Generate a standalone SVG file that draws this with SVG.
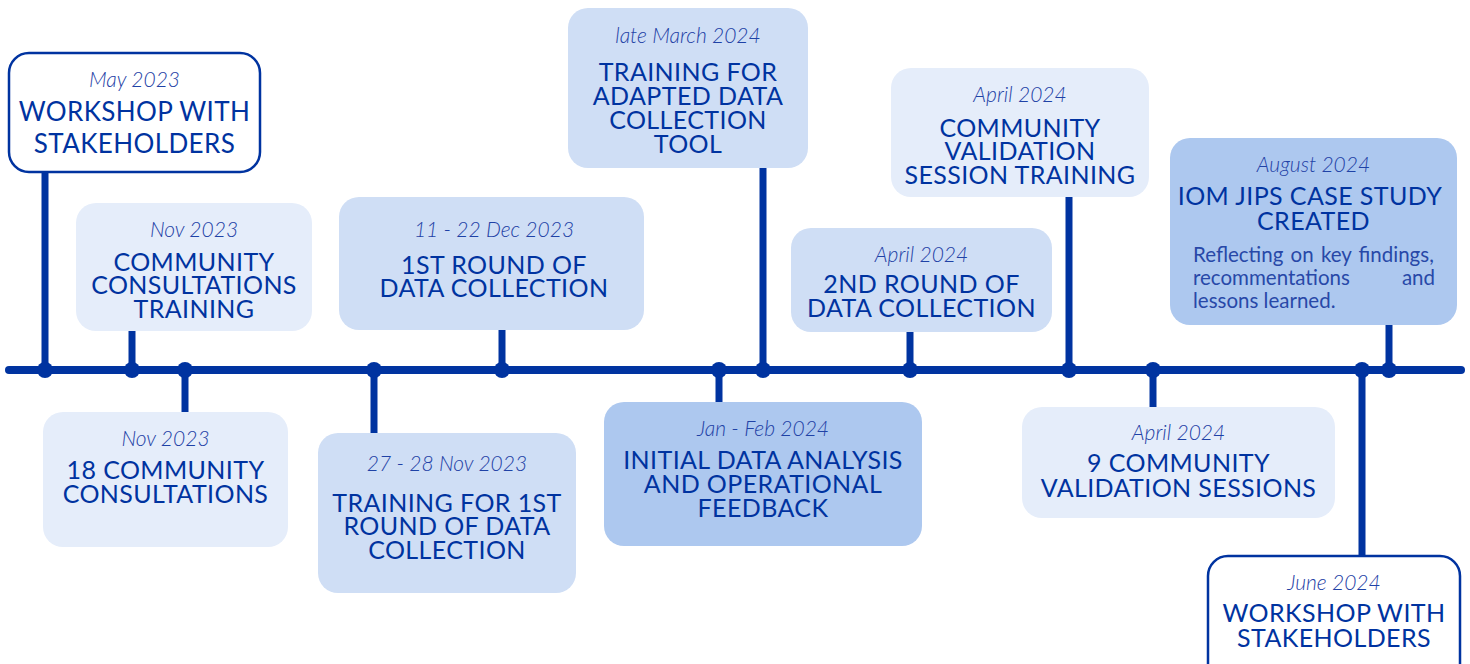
<svg xmlns="http://www.w3.org/2000/svg" width="1470" height="664" viewBox="0 0 1470 664">
  <style>
    .axis { stroke: #0033a0; stroke-width: 8; stroke-linecap: round; fill: none; }
    .stem { stroke: #0033a0; stroke-width: 7; fill: none; }
    .dot { fill: #0033a0; }
    .box-outline { fill: #ffffff; stroke: #0033a0; stroke-width: 2.5; }
    .box-pale { fill: #e5edfa; }
    .box-mid { fill: #cfdef5; }
    .box-deep { fill: #adc8ef; }
    .date { font-family: Lato, "Liberation Sans", sans-serif; font-style: italic; font-weight: 300; font-size: 21px; fill: #1f42a6; text-anchor: middle; }
    .title { font-family: Lato, "Liberation Sans", sans-serif; font-weight: 400; font-size: 25px; letter-spacing: 0.4px; fill: #0033a0; text-anchor: middle; }
    .title-lg { font-size: 26px; }
    .desc { font-family: Lato, "Liberation Sans", sans-serif; font-weight: 400; font-size: 20.5px; fill: #2848a8; }
  </style>

  <!-- timeline axis, stems and junction dots -->
  <g id="connectors">
    <line class="axis" x1="9" y1="370" x2="1461" y2="370"/>
    <line class="stem" x1="45" y1="370" x2="45" y2="172"/>
    <line class="stem" x1="132" y1="370" x2="132" y2="330"/>
    <line class="stem" x1="185" y1="370" x2="185" y2="412"/>
    <line class="stem" x1="374" y1="370" x2="374" y2="434"/>
    <line class="stem" x1="502" y1="370" x2="502" y2="329"/>
    <line class="stem" x1="719" y1="370" x2="719" y2="403"/>
    <line class="stem" x1="763" y1="370" x2="763" y2="167"/>
    <line class="stem" x1="910" y1="370" x2="910" y2="331"/>
    <line class="stem" x1="1069" y1="370" x2="1069" y2="196"/>
    <line class="stem" x1="1153" y1="370" x2="1153" y2="408"/>
    <line class="stem" x1="1362" y1="370" x2="1362" y2="557"/>
    <line class="stem" x1="1389" y1="370" x2="1389" y2="324"/>
    <circle class="dot" cx="45" cy="370" r="8"/>
    <circle class="dot" cx="132" cy="370" r="8"/>
    <circle class="dot" cx="185" cy="370" r="8"/>
    <circle class="dot" cx="374" cy="370" r="8"/>
    <circle class="dot" cx="502" cy="370" r="8"/>
    <circle class="dot" cx="719" cy="370" r="8"/>
    <circle class="dot" cx="763" cy="370" r="8"/>
    <circle class="dot" cx="910" cy="370" r="8"/>
    <circle class="dot" cx="1069" cy="370" r="8"/>
    <circle class="dot" cx="1153" cy="370" r="8"/>
    <circle class="dot" cx="1362" cy="370" r="8"/>
    <circle class="dot" cx="1389" cy="370" r="8"/>
  </g>

  <g id="workshop-may-2023">
    <rect class="box-outline" x="9" y="53" width="251" height="119" rx="20"/>
    <text class="date" x="134.5" y="87">May 2023</text>
    <text class="title title-lg" x="134.5" y="121">WORKSHOP WITH</text>
    <text class="title title-lg" x="134.5" y="153">STAKEHOLDERS</text>
  </g>

  <g id="consultations-training">
    <rect class="box-pale" x="76" y="203" width="236" height="128" rx="20"/>
    <text class="date" x="194" y="237">Nov 2023</text>
    <text class="title" x="194" y="271">COMMUNITY</text>
    <text class="title" x="194" y="294">CONSULTATIONS</text>
    <text class="title" x="194" y="318">TRAINING</text>
  </g>

  <g id="community-consultations">
    <rect class="box-pale" x="43" y="412" width="245" height="135" rx="20"/>
    <text class="date" x="165.5" y="446">Nov 2023</text>
    <text class="title" x="165.5" y="479">18 COMMUNITY</text>
    <text class="title" x="165.5" y="503">CONSULTATIONS</text>
  </g>

  <g id="training-round-1">
    <rect class="box-mid" x="318" y="433" width="258" height="160" rx="20"/>
    <text class="date" x="447" y="471">27 - 28 Nov 2023</text>
    <text class="title" x="447" y="512">TRAINING FOR 1ST</text>
    <text class="title" x="447" y="535">ROUND OF DATA</text>
    <text class="title" x="447" y="559">COLLECTION</text>
  </g>

  <g id="data-collection-round-1">
    <rect class="box-mid" x="339" y="197" width="305" height="133" rx="20"/>
    <text class="date" x="494" y="237">11 - 22 Dec 2023</text>
    <text class="title" x="494" y="274">1ST ROUND OF</text>
    <text class="title" x="494" y="297">DATA COLLECTION</text>
  </g>

  <g id="initial-analysis">
    <rect class="box-deep" x="604" y="402" width="318" height="144" rx="20"/>
    <text class="date" x="763" y="436">Jan - Feb 2024</text>
    <text class="title" x="763" y="469">INITIAL DATA ANALYSIS</text>
    <text class="title" x="763" y="493">AND OPERATIONAL</text>
    <text class="title" x="763" y="517">FEEDBACK</text>
  </g>

  <g id="adapted-tool-training">
    <rect class="box-mid" x="568" y="8" width="240" height="160" rx="20"/>
    <text class="date" x="688" y="43">late March 2024</text>
    <text class="title" x="688" y="81">TRAINING FOR</text>
    <text class="title" x="688" y="105">ADAPTED DATA</text>
    <text class="title" x="688" y="129">COLLECTION</text>
    <text class="title" x="688" y="153">TOOL</text>
  </g>

  <g id="data-collection-round-2">
    <rect class="box-mid" x="791" y="228" width="261" height="104" rx="20"/>
    <text class="date" x="921.5" y="262">April 2024</text>
    <text class="title" x="921.5" y="293">2ND ROUND OF</text>
    <text class="title" x="921.5" y="317">DATA COLLECTION</text>
  </g>

  <g id="validation-training">
    <rect class="box-pale" x="891" y="68" width="258" height="129" rx="20"/>
    <text class="date" x="1020" y="102">April 2024</text>
    <text class="title" x="1020" y="137">COMMUNITY</text>
    <text class="title" x="1020" y="160">VALIDATION</text>
    <text class="title" x="1020" y="184">SESSION TRAINING</text>
  </g>

  <g id="validation-sessions">
    <rect class="box-pale" x="1022" y="407" width="313" height="111" rx="20"/>
    <text class="date" x="1178.5" y="440">April 2024</text>
    <text class="title" x="1178.5" y="472">9 COMMUNITY</text>
    <text class="title" x="1178.5" y="497">VALIDATION SESSIONS</text>
  </g>

  <g id="workshop-june-2024">
    <rect class="box-outline" x="1208" y="556" width="252" height="130" rx="20"/>
    <text class="date" x="1334" y="590">June 2024</text>
    <text class="title" x="1334" y="622">WORKSHOP WITH</text>
    <text class="title" x="1334" y="647">STAKEHOLDERS</text>
  </g>

  <g id="case-study">
    <rect class="box-deep" x="1170" y="138" width="287" height="187" rx="20"/>
    <text class="date" x="1313.5" y="172">August 2024</text>
    <text class="title" x="1310" y="205">IOM JIPS CASE STUDY</text>
    <text class="title" x="1313.5" y="230">CREATED</text>
    <text class="desc" x="1193" y="262" word-spacing="2">Reflecting on key findings,</text>
    <text class="desc" x="1193" y="285">recommentations</text>
    <text class="desc" x="1435" y="285" text-anchor="end">and</text>
    <text class="desc" x="1193" y="308">lessons learned.</text>
  </g>
</svg>
